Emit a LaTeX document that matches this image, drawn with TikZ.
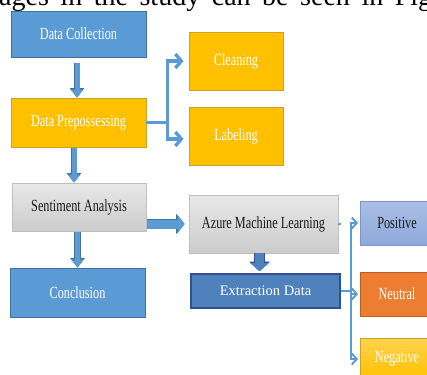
\documentclass[tikz,border=0pt]{standalone}
\usepackage{fontspec}
\setmainfont{Liberation Serif}
\usetikzlibrary{arrows.meta,calc}

\definecolor{boxblue}{HTML}{5B9BD5}
\definecolor{blueedge}{HTML}{41719C}
\definecolor{boxyellow}{HTML}{FFC000}
\definecolor{yellowedge}{HTML}{C9A227}
\definecolor{grayedge}{HTML}{BFBFBF}
\definecolor{darkblue}{HTML}{4F81BD}
\definecolor{darkedge}{HTML}{2F528F}
\definecolor{posfill}{HTML}{8EA9DB}
\definecolor{posedge}{HTML}{7F95C8}
\definecolor{neufill}{HTML}{ED7D31}
\definecolor{neuedge}{HTML}{B85F22}

% condensed box labels
\newcommand{\narrow}[1]{\scalebox{0.72}[1]{#1}}

\begin{document}
\begin{tikzpicture}[x=1pt,y=-1pt,
  basebox/.style={draw, line width=0.8pt, inner sep=0pt, text=white,
    font=\fontsize{17}{19}\selectfont},
  bluebox/.style={basebox, fill=boxblue, draw=blueedge},
  yellowbox/.style={basebox, fill=boxyellow, draw=yellowedge},
  graybox/.style={basebox, draw=grayedge, top color=gray!18, bottom color=gray!40, text=black!90},
  darkbox/.style={basebox, fill=darkblue, draw=darkedge, line width=1.6pt,
    font=\fontsize{14.5}{17}\selectfont},
  posbox/.style={basebox, draw=posedge, top color=posfill!75, bottom color=posfill, text=black!90},
  neubox/.style={basebox, fill=neufill, draw=neuedge},
  negbox/.style={basebox, draw=yellowedge, top color=boxyellow!70, bottom color=boxyellow},
  blockarrow/.style={draw=boxblue, line width=5pt,
    -{Triangle[width=12pt,length=8pt]},
    preaction={draw=blueedge, line width=6.6pt, -{Triangle[width=14pt,length=9.5pt]}}},
  widearrow/.style={draw=boxblue, line width=9pt,
    -{Triangle[width=18pt,length=7pt]},
    preaction={draw=blueedge, line width=10.6pt, -{Triangle[width=20pt,length=8.5pt]}}},
  darkarrow/.style={draw=darkblue, line width=9pt,
    -{Triangle[width=18pt,length=8pt]},
    preaction={draw=darkedge, line width=10.6pt, -{Triangle[width=20pt,length=9.5pt]}}},
  flow/.style={draw=boxblue, line width=3.4pt, line join=miter,
    -{Straight Barb[length=6pt,width=14pt]}, shorten >=5pt},
  thinflow/.style={draw=boxblue, line width=2pt, line join=miter,
    -{Straight Barb[length=5pt,width=11pt]}, shorten >=1.5pt}
]
\useasboundingbox (0,0) rectangle (427,374);
\clip (0,0) rectangle (427,374);

% running text of the page above the figure
\node[anchor=base west, inner sep=0pt, font=\fontsize{28}{30}\selectfont] (caption)
  at (-1,6) {\makebox[447pt][s]{ages in the study can be seen in Figu}};

% boxes
\node[bluebox, minimum width=135, minimum height=46] (dc) at (78.5,34) {\narrow{Data Collection}};
\node[yellowbox, minimum width=135, minimum height=49] (dp) at (78.5,122.5) {\narrow{Data Prepossessing}};
\node[yellowbox, minimum width=94, minimum height=58] (cl) at (236,61) {\narrow{Cleaning}};
\node[yellowbox, minimum width=94, minimum height=58] (lb) at (236,136) {\narrow{Labeling}};
\node[graybox, minimum width=134, minimum height=48] (sa) at (79,207) {\narrow{Sentiment Analysis}};
\node[bluebox, minimum width=135, minimum height=49] (co) at (77.5,292.5) {\narrow{Conclusion}};
\node[graybox, minimum width=149, minimum height=58] (az) at (263.5,224) {\narrow{Azure Machine Learning}};
\node[darkbox, minimum width=149, minimum height=34] (ex) at (265.5,291) {Extraction Data};
\node[posbox, minimum width=74, minimum height=44] (po) at (397,223) {\narrow{Positive}};
\node[neubox, minimum width=74, minimum height=44] (ne) at (397,294) {\narrow{Neutral}};
\node[negbox, minimum width=74, minimum height=42] (ng) at (397,359) {\narrow{Negative}};

% block arrows down the left column
\draw[blockarrow, shorten <=6pt] ([xshift=-1.5pt]dc.south) -- ([xshift=-1.5pt]dc.south |- dp.north);
\draw[blockarrow, shorten <=1pt] ([xshift=-4.5pt]dp.south) -- ([xshift=-4.5pt]dp.south |- sa.north);
\draw[blockarrow, shorten <=1pt] ([xshift=-1.5pt]sa.south) -- ([xshift=-1.5pt]sa.south |- co.north);

% preprocessing branches
\coordinate (fork) at ($(dp.east)+(21,0)$);
\draw[flow] (dp.east) -- (fork) |- (cl.west);
\draw[flow] (fork) |- ([yshift=-3pt]lb.west);

% analysis chain
\draw[widearrow, shorten <=1pt, shorten >=4pt] (sa.east |- az.west) -- (az.west);
\draw[darkarrow, shorten >=2pt] ([xshift=-4pt]az.south) -- ([xshift=-4pt]az.south |- ex.north);

% sentiment classes
\coordinate (split) at ($(ex.east)+(10,0)$);
\coordinate (azstub) at ($(az.east)+(3,0)$);
\draw[boxblue, line width=2pt] (az.east) -- (azstub);
\draw[boxblue, line width=2pt] (ex.east) -- (split);
\draw[thinflow] (split) |- (po.west);
\draw[thinflow] (split) |- (ne.west);
\draw[thinflow] (split) |- (ng.west);
\end{tikzpicture}
\end{document}
